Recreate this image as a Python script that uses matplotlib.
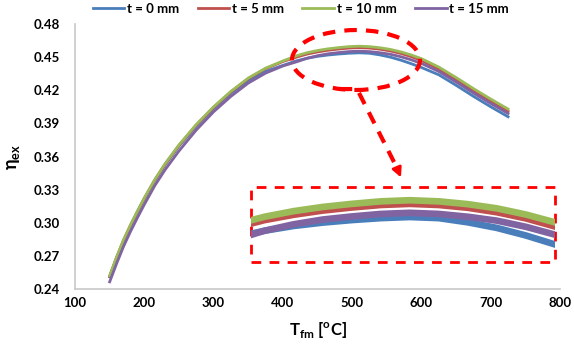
import numpy as np
import matplotlib
matplotlib.use("Agg")
from matplotlib import pyplot as plt
from matplotlib.patches import Ellipse, Rectangle

plt.rcParams['font.family'] = ['Lato', 'DejaVu Sans']
plt.rcParams['mathtext.fontset'] = 'custom'
plt.rcParams['mathtext.rm'] = 'Lato'

# data
T = [150, 160, 170, 180, 190, 200, 215, 230, 250, 275, 300, 325, 350, 375, 400,
     420, 435, 450, 465, 480, 495, 510, 525, 540, 555, 570, 585, 600,
     625, 650, 675, 700, 725]
eta_0 = [0.251, 0.268, 0.2835, 0.297, 0.3095, 0.3215, 0.338, 0.3525, 0.3695, 0.3875,
         0.4035, 0.4175, 0.429, 0.437, 0.4425, 0.4467, 0.449, 0.4507, 0.4519, 0.4528,
         0.4535, 0.4539, 0.4535, 0.452, 0.450, 0.4473, 0.4441, 0.4406,
         0.434, 0.4245, 0.4145, 0.405, 0.396]
eta_5 = [0.2515, 0.2685, 0.284, 0.2975, 0.310, 0.322, 0.3385, 0.353, 0.370, 0.3885,
         0.4045, 0.4185, 0.4305, 0.4395, 0.446, 0.4501, 0.4528, 0.4547, 0.4562, 0.4573,
         0.4582, 0.4586, 0.4582, 0.4572, 0.4556, 0.4534, 0.4505, 0.447,
         0.4392, 0.4295, 0.4195, 0.410, 0.401]
eta_10 = [0.252, 0.269, 0.2845, 0.298, 0.3105, 0.3225, 0.339, 0.3535, 0.3705, 0.389,
          0.405, 0.419, 0.431, 0.440, 0.4465, 0.4513, 0.454, 0.456, 0.4575, 0.4586,
          0.4595, 0.4599, 0.4595, 0.4585, 0.457, 0.4548, 0.452, 0.4486,
          0.441, 0.4315, 0.4215, 0.412, 0.403]
eta_15 = [0.2465, 0.263, 0.2785, 0.292, 0.3045, 0.3165, 0.3335, 0.348, 0.365, 0.384,
          0.4005, 0.4145, 0.4265, 0.4355, 0.442, 0.4458, 0.449, 0.4513, 0.453, 0.4541,
          0.455, 0.4554, 0.455, 0.454, 0.4526, 0.4504, 0.4476, 0.4443,
          0.437, 0.4275, 0.4175, 0.408, 0.399]
labels = ["t = 0 mm", "t = 5 mm", "t = 10 mm", "t = 15 mm"]
colors = ["#4a7ebb", "#c0504d", "#9bbb59", "#8064a2"]
series = [eta_0, eta_5, eta_10, eta_15]

fig = plt.figure(figsize=(5.74, 3.53), dpi=100)
ax = fig.add_axes([0.1307, 0.1813, 0.845, 0.7507])

for y, c, lab in zip(series, colors, labels):
    ax.plot(T, y, color=c, lw=2, label=lab)

ax.set_xlim(100, 800)
ax.set_ylim(0.24, 0.48)
ax.set_xticks(np.arange(100, 801, 100))
ax.set_yticks(np.arange(0.24, 0.481, 0.03))
ax.set_yticklabels(["%.2f" % v for v in np.arange(0.24, 0.481, 0.03)])
ax.tick_params(length=0, labelsize=9.5)
ax.tick_params(axis='y', pad=11)
ax.tick_params(axis='x', pad=6)
for lb in ax.get_xticklabels() + ax.get_yticklabels():
    lb.set_fontweight('bold')
for s in ['top', 'right']:
    ax.spines[s].set_visible(False)
for s in ['left', 'bottom']:
    ax.spines[s].set_color('#c8c8c8')
    ax.spines[s].set_linewidth(1.2)

ax.set_xlabel(r'T$_{\mathregular{fm}}$ [$^{\mathregular{o}}$C]', fontsize=12,
              fontweight='bold', labelpad=8)
ax.set_ylabel(r'η$_{\mathregular{ex}}$', fontsize=13, fontweight='bold', labelpad=8)

fig.legend(loc='upper center', bbox_to_anchor=(0.524, 1.025), ncol=4, frameon=False,
           handlelength=2.4, handletextpad=0.2, columnspacing=1.4,
           prop={'weight': 'bold', 'size': 9.5})

# zoom marks
ax.add_patch(Ellipse((505.5, 0.4474), 184.7, 0.0543, fill=False, ec='red',
                     lw=3, ls=(0, (3, 2.2)), zorder=5))
ax.add_patch(Rectangle((354, 0.2644), 438.6, 0.0679, fill=False, ec='red',
                       lw=2, ls=(0, (3.5, 3)), zorder=5))
ax.plot([482, 507, 566], [0.4211, 0.4211, 0.348], color='red', lw=3,
        ls=(0, (3, 2.2)), zorder=5)
ax.annotate('', xy=(572, 0.3387), xytext=(566, 0.3475),
            arrowprops=dict(arrowstyle='-|>', color='red', lw=2, mutation_scale=14))

# inset (enlarged view of the peak)
ins = ax.inset_axes([354, 0.2644, 438.6, 0.0679], transform=ax.transData)
for y, c in zip(series, colors):
    ins.plot(T, y, color=c, lw=4.8)
ins.set_xlim(428, 585)
ins.set_ylim(0.4378, 0.4646)
ins.axis('off')

plt.savefig("out.png", dpi=100)
